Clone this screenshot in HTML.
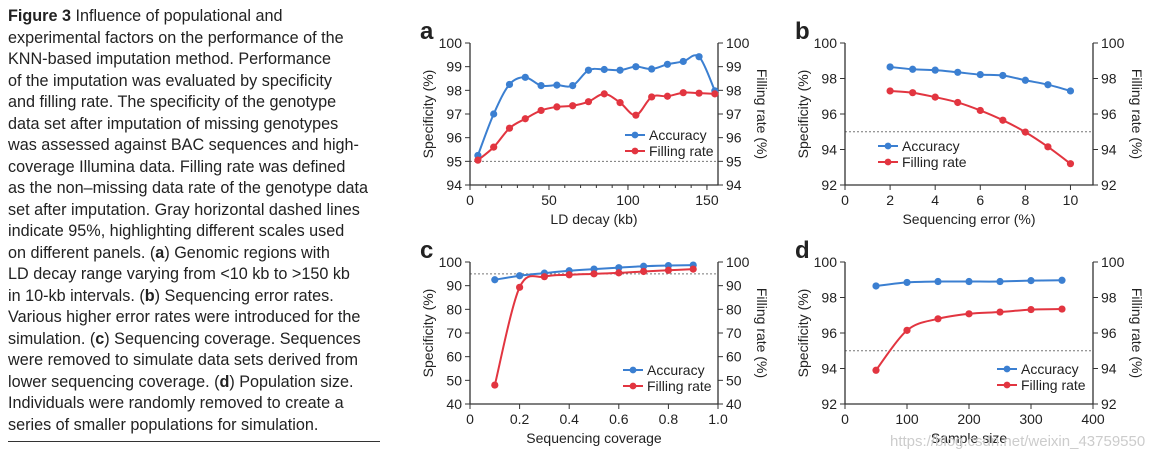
<!DOCTYPE html>
<html><head><meta charset="utf-8">
<style>
body{margin:0;width:1171px;height:460px;background:#fff;overflow:hidden;font-family:"Liberation Sans",sans-serif;}
#cap{position:absolute;left:8px;top:6px;font-size:16.2px;line-height:21.5px;color:#222;white-space:nowrap;}
#rule{position:absolute;left:8px;top:441px;width:372px;height:1px;background:#333;}
svg{position:absolute;left:0;top:0;}
</style></head><body>
<div id="cap"><b>Figure 3</b> Influence of populational and<br>experimental factors on the performance of the<br>KNN-based imputation method. Performance<br>of the imputation was evaluated by specificity<br>and filling rate. The specificity of the genotype<br>data set after imputation of missing genotypes<br>was assessed against BAC sequences and high-<br>coverage Illumina data. Filling rate was defined<br>as the non–missing data rate of the genotype data<br>set after imputation. Gray horizontal dashed lines<br>indicate 95%, highlighting different scales used<br>on different panels. (<b>a</b>) Genomic regions with<br>LD decay range varying from &lt;10 kb to &gt;150 kb<br>in 10-kb intervals. (<b>b</b>) Sequencing error rates.<br>Various higher error rates were introduced for the<br>simulation. (<b>c</b>) Sequencing coverage. Sequences<br>were removed to simulate data sets derived from<br>lower sequencing coverage. (<b>d</b>) Population size.<br>Individuals were randomly removed to create a<br>series of smaller populations for simulation.</div>
<div id="rule"></div>
<svg id="chart" width="1171" height="460"></svg>
<script>
const aX=[5,15,25,35,45,55,65,75,85,95,105,115,125,135,145,155];
const aAcc=[95.25,97.0,98.25,98.55,98.2,98.22,98.2,98.85,98.88,98.85,99.0,98.9,99.1,99.22,99.42,97.98];
const aFill=[95.05,95.6,96.4,96.8,97.15,97.3,97.35,97.52,97.85,97.48,96.95,97.72,97.75,97.9,97.88,97.85];
const aXTicks=[0,50,100,150];
const aYTicks=[94,95,96,97,98,99,100];
const bX=[2,3,4,5,6,7,8,9,10];
const bAcc=[98.65,98.52,98.47,98.35,98.22,98.17,97.9,97.65,97.3];
const bFill=[97.3,97.2,96.95,96.65,96.2,95.65,94.98,94.15,93.2];
const bXTicks=[0,2,4,6,8,10];
const bYTicks=[92,94,96,98,100];
const cX=[0.1,0.2,0.3,0.4,0.5,0.6,0.7,0.8,0.9];
const cAcc=[92.5,94.2,95.3,96.3,97.0,97.6,98.2,98.5,98.7];
const cFill=[48,89.3,93.8,94.6,95.0,95.4,96.0,96.5,97.0];
const cXTicks=[0,0.2,0.4,0.6,0.8,1.0];
const cXLabels=["0","0.2","0.4","0.6","0.8","1.0"];
const cYTicks=[40,50,60,70,80,90,100];
const dX=[50,100,150,200,250,300,350];
const dAcc=[98.65,98.85,98.9,98.9,98.9,98.95,98.97];
const dFill=[93.9,96.15,96.8,97.08,97.18,97.32,97.35];
const dXTicks=[0,100,200,300,400];
const dYTicks=[92,94,96,98,100];

const NS="http://www.w3.org/2000/svg";
const svg=document.getElementById('chart');
function mk(tag,attrs,parent,text){const e=document.createElementNS(NS,tag);for(const k in attrs)e.setAttribute(k,attrs[k]);if(text!==undefined)e.textContent=text;(parent||svg).appendChild(e);return e;}

const panels=[
 {id:'a',L:470,R:718,T:43,B:185,x0:0,x1:157,y0:94,y1:100,xs:aX,acc:aAcc,fill:aFill,xt:aXTicks,xl:null,minor:10,yt:aYTicks,xTitle:'LD decay (kb)',leg:[625,135]},
 {id:'b',L:845,R:1093,T:43,B:185,x0:0,x1:11,y0:92,y1:100,xs:bX,acc:bAcc,fill:bFill,xt:bXTicks,xl:null,minor:0,yt:bYTicks,xTitle:'Sequencing error (%)',leg:[878,146]},
 {id:'c',L:470,R:718,T:262,B:404,x0:0,x1:1,y0:40,y1:100,xs:cX,acc:cAcc,fill:cFill,xt:cXTicks,xl:cXLabels,minor:0,yt:cYTicks,xTitle:'Sequencing coverage',leg:[623,370]},
 {id:'d',L:845,R:1093,T:262,B:404,x0:0,x1:400,y0:92,y1:100,xs:dX,acc:dAcc,fill:dFill,xt:dXTicks,xl:null,minor:0,yt:dYTicks,xTitle:'Sample size',leg:[997,369]}
];

function smooth(pts){
 let d='M'+pts[0][0]+','+pts[0][1];
 for(let i=0;i<pts.length-1;i++){
  const p0=pts[i-1]||pts[i],p1=pts[i],p2=pts[i+1],p3=pts[i+2]||p2;
  const c1=[p1[0]+(p2[0]-p0[0])/6,p1[1]+(p2[1]-p0[1])/6];
  const c2=[p2[0]-(p3[0]-p1[0])/6,p2[1]-(p3[1]-p1[1])/6];
  d+=' C'+c1[0]+','+c1[1]+' '+c2[0]+','+c2[1]+' '+p2[0]+','+p2[1];
 }
 return d;
}

panels.forEach(p=>{
 const g=mk('g',{});
 
 
 const sx=v=>p.L+(v-p.x0)/(p.x1-p.x0)*(p.R-p.L);
 const sy=v=>p.B-(v-p.y0)/(p.y1-p.y0)*(p.B-p.T);
 const lt=mk('text',{x:p.L-50,y:p.T-4,'font-size':24,'font-weight':'bold',fill:'#222'},g,p.id);
 
 
 const rl=mk('line',{x1:p.L,x2:p.R,y1:sy(95),y2:sy(95),stroke:'#777','stroke-width':1,'stroke-dasharray':'2,2'},g);
 
 
 const ax=mk('path',{d:`M${p.L},${p.T} V${p.B} H${p.R} V${p.T}`,fill:'none',stroke:'#333','stroke-width':1.3},g);
 
 
 p.yt.forEach(v=>{
  const y=sy(v);
  mk('line',{x1:p.L-5,x2:p.L,y1:y,y2:y,stroke:'#333'},g);
  mk('line',{x1:p.R,x2:p.R+5,y1:y,y2:y,stroke:'#333'},g);
  const t1=mk('text',{x:p.L-8,y:y+5,'font-size':14,'text-anchor':'end',fill:'#222'},g,v);
  
  
  const t2=mk('text',{x:p.R+8,y:y+5,'font-size':14,fill:'#222'},g,v);
  
  
 });
 if(p.minor){for(let v=p.x0;v<=p.x1;v+=p.minor){mk('line',{x1:sx(v),x2:sx(v),y1:p.B,y2:p.B+3,stroke:'#333'},g);}}
 p.xt.forEach((v,i)=>{
  const x=sx(v);
  mk('line',{x1:x,x2:x,y1:p.B,y2:p.B+5,stroke:'#333'},g);
  const t=mk('text',{x:x,y:p.B+20,'font-size':14,'text-anchor':'middle',fill:'#222'},g,p.xl?p.xl[i]:v);
  
  
 });
 const xt=mk('text',{x:(p.L+p.R)/2,y:p.B+39,'font-size':14,'text-anchor':'middle',fill:'#222'},g,p.xTitle);
 
 
 const my=(p.T+p.B)/2;
 const yt=mk('text',{x:0,y:0,'font-size':14,'text-anchor':'middle',fill:'#222',transform:`translate(${p.L-37},${my}) rotate(-90)`},g,'Specificity (%)');
 
 
 const yt2=mk('text',{x:0,y:0,'font-size':14,'text-anchor':'middle',fill:'#222',transform:`translate(${p.R+39},${my}) rotate(90)`},g,'Filling rate (%)');
 
 
 [[p.acc,'#3b7fd1','accuracy'],[p.fill,'#e23540','filling-rate']].forEach(([vals,col,nm])=>{
  const pts=vals.map((v,i)=>[sx(p.xs[i]),sy(v)]);
  const ln=mk('path',{d:smooth(pts),fill:'none',stroke:col,'stroke-width':2},g);
  
  
  pts.forEach(q=>{
   const c=mk('circle',{cx:q[0],cy:q[1],r:3.6,fill:col},g);
   
   
  });
 });
 [['Accuracy','#3b7fd1'],['Filling rate','#e23540']].forEach(([lab,col],i)=>{
  const y=p.leg[1]+i*16;
  const lg=mk('g',{},g);
  
  
  mk('line',{x1:p.leg[0],x2:p.leg[0]+20,y1:y,y2:y,stroke:col,'stroke-width':2},lg);
  mk('circle',{cx:p.leg[0]+10,cy:y,r:3.4,fill:col},lg);
  mk('text',{x:p.leg[0]+24,y:y+5,'font-size':14,fill:'#222'},lg,lab);
 });
});
const wm=mk('text',{x:890,y:446,'font-size':15,fill:'#ccc'},svg,'https://blog.csdn.net/weixin_43759550');


</script>
</body></html>
